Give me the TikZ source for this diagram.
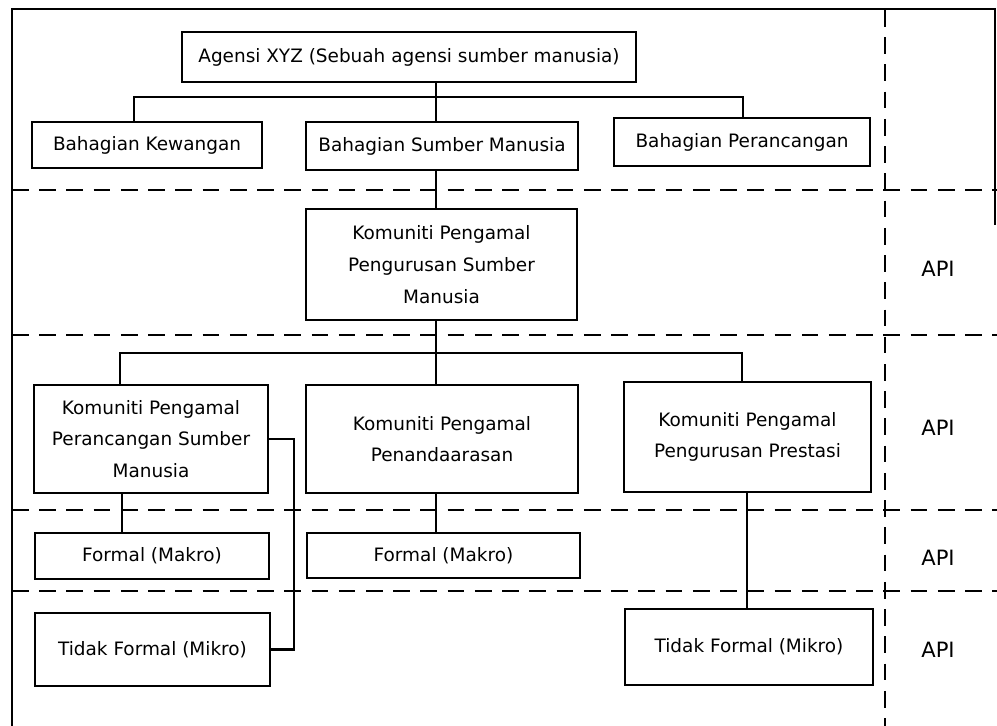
\documentclass[tikz,border=0pt]{standalone}
\usepackage{fontspec}
\setmainfont{DejaVu Sans}
\begin{document}
\begin{tikzpicture}[x=0.02cm,y=-0.02cm,
  kotak/.style={draw,line width=1.4pt,inner sep=0pt,align=center,font=\fontsize{10.5}{18}\selectfont},
  garis/.style={line width=1.4pt},
  sempadan/.style={line width=1.2pt,dash pattern=on 9.5pt off 6pt},
  teks/.style={font=\fontsize{12}{14}\selectfont}]
\useasboundingbox (0,0) rectangle (997,726);
\draw[garis] (12,726) -- (12,9) -- (995,9) -- (995,225);
\foreach \y in {190,335,510,591}
  \draw[sempadan] (12,\y) -- (997,\y);
\draw[sempadan] (885,10) -- (885,726);

\node[kotak,minimum width=9.08cm,minimum height=1cm] (agensi) at (409,57) {Agensi XYZ (Sebuah agensi sumber manusia)};
\node[kotak,minimum width=4.6cm,minimum height=0.92cm] (kewangan) at (147,145) {Bahagian Kewangan};
\node[kotak,minimum width=5.44cm,minimum height=0.96cm] (sumber) at (442,146) {Bahagian Sumber Manusia};
\node[kotak,minimum width=5.12cm,minimum height=0.96cm] (perancangan) at (742,142) {Bahagian Perancangan};
\node[kotak,minimum width=5.42cm,minimum height=2.22cm] (kppsm) at (441.5,264.5) {Komuniti Pengamal\\Pengurusan Sumber\\Manusia};
\node[kotak,minimum width=4.68cm,minimum height=2.16cm] (kpperanc) at (151,439) {Komuniti Pengamal\\Perancangan Sumber\\Manusia};
\node[kotak,minimum width=5.44cm,minimum height=2.16cm] (kppenand) at (442,439) {Komuniti Pengamal\\Penandaarasan};
\node[kotak,minimum width=4.94cm,minimum height=2.2cm] (kpprest) at (747.5,437) {Komuniti Pengamal\\Pengurusan Prestasi};
\node[kotak,minimum width=4.68cm,minimum height=0.92cm] (formal1) at (152,556) {Formal (Makro)};
\node[kotak,minimum width=5.46cm,minimum height=0.9cm] (formal2) at (443.5,555.5) {Formal (Makro)};
\node[kotak,minimum width=4.7cm,minimum height=1.46cm] (tidak1) at (152.5,649.5) {Tidak Formal (Mikro)};
\node[kotak,minimum width=4.96cm,minimum height=1.52cm] (tidak2) at (749,647) {Tidak Formal (Mikro)};

\foreach \y/\n in {269/api1,428/api2,558/api3,650/api4}
  \node[teks] (\n) at (938,\y) {API};

\coordinate (busatas) at (436,97);
\coordinate (kiri1) at (134,97);
\coordinate (kanan1) at (743,97);
\draw[garis] (agensi.south -| busatas) -- (busatas);
\draw[garis] (kewangan.north -| kiri1) -- (kiri1) -- (kanan1) -- (perancangan.north -| kanan1);
\draw[garis] (busatas) -- (sumber.north -| busatas);
\draw[garis] (sumber.south -| busatas) -- (kppsm.north -| busatas);

\coordinate (busbawah) at (436,353);
\coordinate (kiri2) at (120,353);
\coordinate (kanan2) at (742,353);
\draw[garis] (kppsm.south -| busbawah) -- (busbawah);
\draw[garis] (kpperanc.north -| kiri2) -- (kiri2) -- (kanan2) -- (kpprest.north -| kanan2);
\draw[garis] (busbawah) -- (kppenand.north -| busbawah);

\coordinate (turun1) at (122,0);
\coordinate (turun3) at (747,0);
\coordinate (sisi) at (294,0);
\draw[garis] (kpperanc.south -| turun1) -- (formal1.north -| turun1);
\draw[garis] (kppenand.south -| busbawah) -- (formal2.north -| busbawah);
\draw[garis] (kpprest.south -| turun3) -- (tidak2.north -| turun3);
\draw[garis] (kpperanc.east) -- (kpperanc.east -| sisi) |- (tidak1.east);
\end{tikzpicture}
\end{document}
